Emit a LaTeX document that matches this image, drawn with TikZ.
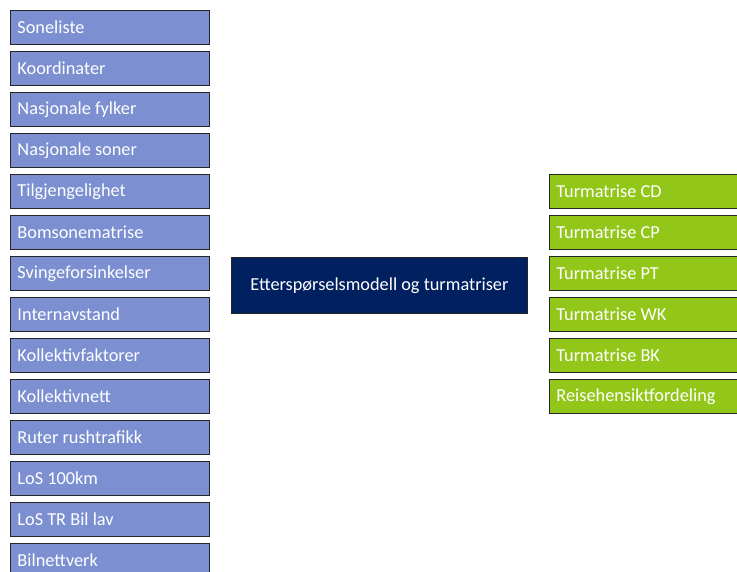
\documentclass[tikz,border=0pt]{standalone}
\usepackage{fontspec}
\setmainfont{Carlito}
\definecolor{inblue}{HTML}{7B8FD1}
\definecolor{navy}{HTML}{002060}
\definecolor{outgreen}{HTML}{92C71A}
\begin{document}
\begin{tikzpicture}[x=1pt,y=-1pt,
  inbox/.style={draw=black!85,line width=0.9pt,fill=inblue,text=white,
    minimum width=199pt,minimum height=34pt,anchor=north west,
    text width=185pt,align=flush left,inner xsep=7pt,inner ysep=2pt,
    font=\fontsize{18.3}{20}\selectfont},
  outbox/.style={inbox,fill=outgreen,minimum width=200pt,text width=186pt},
  modelbox/.style={draw=black!85,line width=0.9pt,fill=navy,text=white,
    minimum width=296pt,minimum height=56pt,anchor=north west,
    font=\fontsize{18.3}{20}\selectfont}]
\clip (0,0) rectangle (737,571);
\useasboundingbox (0,0) rectangle (737,571);
% input data sets
\foreach \t [count=\i from 0] in {Soneliste,Koordinater,Nasjonale fylker,Nasjonale soner,
  Tilgjengelighet,Bomsonematrise,Svingeforsinkelser,Internavstand,Kollektivfaktorer,
  Kollektivnett,Ruter rushtrafikk,LoS 100km,LoS TR Bil lav,Bilnettverk}
  \node[inbox] (in\i) at (10,{10+41*\i}) {\t};
% model
\node[modelbox] (model) at (231,257) {Etterspørselsmodell og turmatriser};
% output matrices
\foreach \t [count=\i from 0] in {Turmatrise CD,Turmatrise CP,Turmatrise PT,
  Turmatrise WK,Turmatrise BK,Reisehensiktfordeling}
  \node[outbox] (out\i) at (549,{174+41*\i}) {\t};
\end{tikzpicture}
\end{document}
